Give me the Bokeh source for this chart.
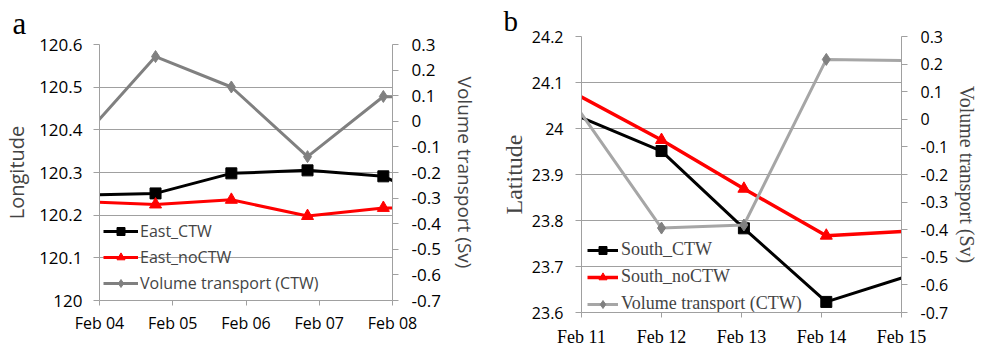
from bokeh.plotting import figure
from bokeh.layouts import row
from bokeh.models import Range1d, LinearAxis, FixedTicker
from bokeh.embed import file_html
from bokeh.resources import INLINE

# ---------------- data: panel a ----------------
a_days = [3.73, 4.765, 5.80, 6.84, 7.875, 8.91]          # day of February
a_east_ctw = [120.247, 120.251, 120.298, 120.305, 120.291, 120.21]
a_east_noctw = [120.232, 120.225, 120.236, 120.198, 120.217, 120.217]
a_volume = [-0.078, 0.253, 0.134, -0.138, 0.097, 0.085]
a_xticks = [4, 5, 6, 7, 8]
a_xlabels = ["Feb 04", "Feb 05", "Feb 06", "Feb 07", "Feb 08"]
a_lticks = [120.0, 120.1, 120.2, 120.3, 120.4, 120.5, 120.6]
a_llabels = ["120", "120.1", "120.2", "120.3", "120.4", "120.5", "120.6"]

# ---------------- data: panel b ----------------
b_days = [10.97, 12.0, 13.03, 14.06, 15.09]
b_south_ctw = [24.026, 23.951, 23.783, 23.623, 23.680]
b_south_noctw = [24.071, 23.975, 23.869, 23.767, 23.777]
b_volume = [0.032, -0.394, -0.383, 0.217, 0.2125]
b_xticks = [11, 12, 13, 14, 15]
b_xlabels = ["Feb 11", "Feb 12", "Feb 13", "Feb 14", "Feb 15"]
b_lticks = [23.6, 23.7, 23.8, 23.9, 24.0, 24.1, 24.2]
b_llabels = ["23.6", "23.7", "23.8", "23.9", "24", "24.1", "24.2"]

# shared right axis (volume transport)
r_ticks = [-0.7, -0.6, -0.5, -0.4, -0.3, -0.2, -0.1, 0.0, 0.1, 0.2, 0.3]
r_labels = ["-0.7", "-0.6", "-0.5", "-0.4", "-0.3", "-0.2", "-0.1", "0", "0.1", "0.2", "0.3"]

GRID = "#a0a0a0"
SANS = "Open Sans"
SERIF = "Liberation Serif"


def style_axis(ax, tick_out, standoff, font, size):
    ax.axis_line_color = GRID
    ax.major_tick_line_color = GRID
    ax.minor_tick_line_color = None
    ax.major_tick_out = tick_out
    ax.major_tick_in = 0
    ax.major_label_standoff = standoff
    ax.major_label_text_font = font
    ax.major_label_text_font_size = size
    ax.major_label_text_color = "black"


def make_panel(width, height, borders, xr, yr, xticks, xlabels, lticks, llabels):
    p = figure(width=width, height=height, x_range=Range1d(*xr),
               y_range=Range1d(*yr), output_backend="svg",
               toolbar_location=None, frame_align=False,
               min_border_left=borders[0], min_border_right=borders[1],
               min_border_top=borders[2], min_border_bottom=borders[3])
    p.outline_line_color = None
    p.background_fill_color = "white"
    p.xgrid.grid_line_color = None
    yt = FixedTicker(ticks=lticks)
    p.yaxis.ticker = yt
    p.ygrid.ticker = yt
    p.ygrid.grid_line_color = GRID
    p.ygrid.grid_line_width = 1
    xt = FixedTicker(ticks=xticks)
    p.xaxis.ticker = xt
    p.xaxis.major_label_overrides = dict(zip(xticks, xlabels))
    p.yaxis.major_label_overrides = dict(zip(lticks, llabels))
    p.extra_y_ranges = {"vt": Range1d(-0.7, 0.3)}
    rax = LinearAxis(y_range_name="vt", ticker=FixedTicker(ticks=r_ticks),
                     major_label_overrides=dict(zip(r_ticks, r_labels)))
    p.add_layout(rax, "right")
    return p, rax


def panel_letter(p, letter, size, offset, standoff):
    p.title.text = letter
    p.title.align = "left"
    p.title.offset = offset
    p.title.standoff = standoff
    p.title.vertical_align = "bottom"
    p.title.text_font = SERIF
    p.title.text_font_size = size
    p.title.text_font_style = "normal"
    p.title.text_color = "black"


def style_legend(p, loc, spacing, gw, standoff, font, size):
    lg = p.legend[0]
    lg.location = loc
    lg.background_fill_alpha = 0
    lg.border_line_alpha = 0
    lg.padding = 0
    lg.margin = 0
    lg.spacing = spacing
    lg.glyph_width = gw
    lg.glyph_height = 20
    lg.label_height = 20
    lg.label_standoff = standoff
    lg.label_text_font = font
    lg.label_text_font_size = size


# ================= panel a =================
pa, ra = make_panel(480, 349, (99, 88, 42, 49), (4, 8), (120.0, 120.6),
                    a_xticks, a_xlabels, a_lticks, a_llabels)
style_axis(pa.xaxis[0], 5, 6, SANS, "16px")
style_axis(pa.yaxis[0], 6, 11, SANS, "17px")
style_axis(ra, 6, 13, SANS, "17px")
pa.yaxis.axis_label = "Longitude"
pa.yaxis.axis_label_text_font = SANS
pa.yaxis.axis_label_text_font_size = "20px"
pa.yaxis.axis_label_text_font_style = "normal"
pa.yaxis.axis_label_standoff = 6
ra.axis_label = "Volume transport (Sv)"
ra.axis_label_text_font = SANS
ra.axis_label_text_font_size = "19px"
ra.axis_label_text_font_style = "normal"
ra.axis_label_standoff = 8

pa.line(a_days, a_east_ctw, color="black", line_width=3, legend_label="East_CTW")
pa.scatter(a_days[1:-1], a_east_ctw[1:-1], marker="square", size=11,
           color="black", legend_label="East_CTW")
pa.line(a_days, a_east_noctw, color="#ff0000", line_width=3, legend_label="East_noCTW")
pa.scatter(a_days[1:-1], a_east_noctw[1:-1], marker="triangle", size=12,
           color="#ff0000", legend_label="East_noCTW")
pa.line(a_days, a_volume, color="#808080", line_width=3, y_range_name="vt",
        legend_label="Volume transport (CTW)")
pa.scatter(a_days[1:-1], a_volume[1:-1], marker="diamond", size=12,
           color="#808080", y_range_name="vt", legend_label="Volume transport (CTW)")
style_legend(pa, (4, 6), 4, 35, 2, SANS, "16px")
panel_letter(pa, "a", "31px", -87, 7)

# ================= panel b =================
pb, rb = make_panel(501, 349, (101, 78, 36, 37), (11, 15), (23.6, 24.2),
                    b_xticks, b_xlabels, b_lticks, b_llabels)
style_axis(pb.xaxis[0], 5, 9, SERIF, "18px")
style_axis(pb.yaxis[0], 6, 12, SANS, "16px")
style_axis(rb, 6, 13, SANS, "16px")
pb.yaxis.axis_label = "Latitude"
pb.yaxis.axis_label_text_font = SERIF
pb.yaxis.axis_label_text_font_size = "24px"
pb.yaxis.axis_label_text_font_style = "normal"
pb.yaxis.axis_label_standoff = 2
rb.axis_label = "Volume transport (Sv)"
rb.axis_label_text_font = SERIF
rb.axis_label_text_font_size = "20px"
rb.axis_label_text_font_style = "normal"
rb.axis_label_standoff = 5

pb.line(b_days, b_south_ctw, color="black", line_width=3, legend_label="South_CTW")
pb.scatter(b_days[1:-1], b_south_ctw[1:-1], marker="square", size=11,
           color="black", legend_label="South_CTW")
pb.line(b_days, b_south_noctw, color="#ff0000", line_width=3.5, legend_label="South_noCTW")
pb.scatter(b_days[1:-1], b_south_noctw[1:-1], marker="triangle", size=12,
           color="#ff0000", legend_label="South_noCTW")
pb.line(b_days, b_volume, color="#a6a6a6", line_width=3, y_range_name="vt",
        legend_label="Volume transport (CTW)")
pb.scatter(b_days[1:-1], b_volume[1:-1], marker="diamond", size=12,
           color="#808080", y_range_name="vt", legend_label="Volume transport (CTW)")
style_legend(pb, (6, -2), 6, 31, 3, SERIF, "18px")
panel_letter(pb, "b", "29px", -78, 0)

layout = row(pa, pb)
open("out.html", "w").write(file_html(layout, INLINE))
